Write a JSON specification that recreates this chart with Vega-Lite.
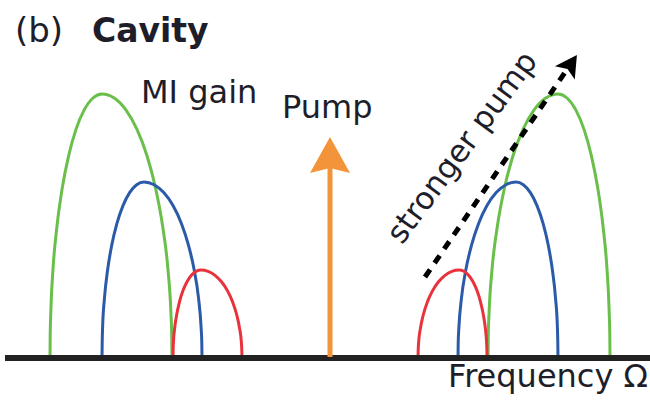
{
  "$schema": "https://vega.github.io/schema/vega-lite/v6.json",
  "width": 650,
  "height": 400,
  "autosize": {"type": "none"},
  "padding": 0,
  "background": "white",
  "config": {"view": {"stroke": null}},
  "datasets": {
    "curves": [
      {"c":"sL","p":"strong","x":-280,"g":0},{"c":"sL","p":"strong","x":-279.8,"g":23},{"c":"sL","p":"strong","x":-279.2,"g":45.8},{"c":"sL","p":"strong","x":-276.9,"g":90.3},{"c":"sL","p":"strong","x":-273,"g":132},{"c":"sL","p":"strong","x":-267.8,"g":169.7},{"c":"sL","p":"strong","x":-261.4,"g":202.2},{"c":"sL","p":"strong","x":-254,"g":228.6},{"c":"sL","p":"strong","x":-245.8,"g":248.1},{"c":"sL","p":"strong","x":-237,"g":260},{"c":"sL","p":"strong","x":-228,"g":264},{"c":"sL","p":"strong","x":-215.8,"g":260},{"c":"sL","p":"strong","x":-204.1,"g":248.1},{"c":"sL","p":"strong","x":-193,"g":228.6},{"c":"sL","p":"strong","x":-183,"g":202.2},{"c":"sL","p":"strong","x":-174.4,"g":169.7},{"c":"sL","p":"strong","x":-167.4,"g":132},{"c":"sL","p":"strong","x":-162.2,"g":90.3},{"c":"sL","p":"strong","x":-159.1,"g":45.8},{"c":"sL","p":"strong","x":-158.3,"g":23},{"c":"sL","p":"strong","x":-158,"g":0},
      {"c":"sR","p":"strong","x":158,"g":0},{"c":"sR","p":"strong","x":158.3,"g":23},{"c":"sR","p":"strong","x":159.1,"g":45.8},{"c":"sR","p":"strong","x":162.2,"g":90.3},{"c":"sR","p":"strong","x":167.4,"g":132},{"c":"sR","p":"strong","x":174.4,"g":169.7},{"c":"sR","p":"strong","x":183,"g":202.2},{"c":"sR","p":"strong","x":193,"g":228.6},{"c":"sR","p":"strong","x":204.1,"g":248.1},{"c":"sR","p":"strong","x":215.8,"g":260},{"c":"sR","p":"strong","x":228,"g":264},{"c":"sR","p":"strong","x":237,"g":260},{"c":"sR","p":"strong","x":245.8,"g":248.1},{"c":"sR","p":"strong","x":254,"g":228.6},{"c":"sR","p":"strong","x":261.4,"g":202.2},{"c":"sR","p":"strong","x":267.8,"g":169.7},{"c":"sR","p":"strong","x":273,"g":132},{"c":"sR","p":"strong","x":276.9,"g":90.3},{"c":"sR","p":"strong","x":279.2,"g":45.8},{"c":"sR","p":"strong","x":279.8,"g":23},{"c":"sR","p":"strong","x":280,"g":0},
      {"c":"mL","p":"medium","x":-228,"g":0},{"c":"mL","p":"medium","x":-227.8,"g":15.3},{"c":"mL","p":"medium","x":-227.4,"g":30.6},{"c":"mL","p":"medium","x":-225.5,"g":60.2},{"c":"mL","p":"medium","x":-222.4,"g":88},{"c":"mL","p":"medium","x":-218.2,"g":113.1},{"c":"mL","p":"medium","x":-213,"g":134.8},{"c":"mL","p":"medium","x":-207,"g":152.4},{"c":"mL","p":"medium","x":-200.4,"g":165.4},{"c":"mL","p":"medium","x":-193.3,"g":173.3},{"c":"mL","p":"medium","x":-186,"g":176},{"c":"mL","p":"medium","x":-175.9,"g":173.3},{"c":"mL","p":"medium","x":-166.2,"g":165.4},{"c":"mL","p":"medium","x":-157,"g":152.4},{"c":"mL","p":"medium","x":-148.7,"g":134.8},{"c":"mL","p":"medium","x":-141.6,"g":113.1},{"c":"mL","p":"medium","x":-135.8,"g":88},{"c":"mL","p":"medium","x":-131.5,"g":60.2},{"c":"mL","p":"medium","x":-128.9,"g":30.6},{"c":"mL","p":"medium","x":-128.2,"g":15.3},{"c":"mL","p":"medium","x":-128,"g":0},
      {"c":"mR","p":"medium","x":128,"g":0},{"c":"mR","p":"medium","x":128.2,"g":15.3},{"c":"mR","p":"medium","x":128.9,"g":30.6},{"c":"mR","p":"medium","x":131.5,"g":60.2},{"c":"mR","p":"medium","x":135.8,"g":88},{"c":"mR","p":"medium","x":141.6,"g":113.1},{"c":"mR","p":"medium","x":148.7,"g":134.8},{"c":"mR","p":"medium","x":157,"g":152.4},{"c":"mR","p":"medium","x":166.2,"g":165.4},{"c":"mR","p":"medium","x":175.9,"g":173.3},{"c":"mR","p":"medium","x":186,"g":176},{"c":"mR","p":"medium","x":193.3,"g":173.3},{"c":"mR","p":"medium","x":200.4,"g":165.4},{"c":"mR","p":"medium","x":207,"g":152.4},{"c":"mR","p":"medium","x":213,"g":134.8},{"c":"mR","p":"medium","x":218.2,"g":113.1},{"c":"mR","p":"medium","x":222.4,"g":88},{"c":"mR","p":"medium","x":225.5,"g":60.2},{"c":"mR","p":"medium","x":227.4,"g":30.6},{"c":"mR","p":"medium","x":227.8,"g":15.3},{"c":"mR","p":"medium","x":228,"g":0},
      {"c":"wL","p":"weak","x":-157,"g":0},{"c":"wL","p":"weak","x":-156.9,"g":7.7},{"c":"wL","p":"weak","x":-156.6,"g":15.3},{"c":"wL","p":"weak","x":-155.3,"g":30.1},{"c":"wL","p":"weak","x":-153.2,"g":44},{"c":"wL","p":"weak","x":-150.4,"g":56.6},{"c":"wL","p":"weak","x":-147,"g":67.4},{"c":"wL","p":"weak","x":-143,"g":76.2},{"c":"wL","p":"weak","x":-138.6,"g":82.7},{"c":"wL","p":"weak","x":-133.9,"g":86.7},{"c":"wL","p":"weak","x":-129,"g":88},{"c":"wL","p":"weak","x":-121.9,"g":86.7},{"c":"wL","p":"weak","x":-115,"g":82.7},{"c":"wL","p":"weak","x":-108.5,"g":76.2},{"c":"wL","p":"weak","x":-102.6,"g":67.4},{"c":"wL","p":"weak","x":-97.6,"g":56.6},{"c":"wL","p":"weak","x":-93.5,"g":44},{"c":"wL","p":"weak","x":-90.5,"g":30.1},{"c":"wL","p":"weak","x":-88.6,"g":15.3},{"c":"wL","p":"weak","x":-88.2,"g":7.7},{"c":"wL","p":"weak","x":-88,"g":0},
      {"c":"wR","p":"weak","x":88,"g":0},{"c":"wR","p":"weak","x":88.2,"g":7.7},{"c":"wR","p":"weak","x":88.6,"g":15.3},{"c":"wR","p":"weak","x":90.5,"g":30.1},{"c":"wR","p":"weak","x":93.5,"g":44},{"c":"wR","p":"weak","x":97.6,"g":56.6},{"c":"wR","p":"weak","x":102.6,"g":67.4},{"c":"wR","p":"weak","x":108.5,"g":76.2},{"c":"wR","p":"weak","x":115,"g":82.7},{"c":"wR","p":"weak","x":121.9,"g":86.7},{"c":"wR","p":"weak","x":129,"g":88},{"c":"wR","p":"weak","x":133.9,"g":86.7},{"c":"wR","p":"weak","x":138.6,"g":82.7},{"c":"wR","p":"weak","x":143,"g":76.2},{"c":"wR","p":"weak","x":147,"g":67.4},{"c":"wR","p":"weak","x":150.4,"g":56.6},{"c":"wR","p":"weak","x":153.2,"g":44},{"c":"wR","p":"weak","x":155.3,"g":30.1},{"c":"wR","p":"weak","x":156.6,"g":15.3},{"c":"wR","p":"weak","x":156.9,"g":7.7},{"c":"wR","p":"weak","x":157,"g":0}
    ]
  },
  "layer": [
    {
      "data": {"name": "curves"},
      "mark": {"type": "line", "strokeWidth": 3, "interpolate": "monotone"},
      "encoding": {
        "x": {"field": "x", "type": "quantitative", "scale": {"domain": [-330, 320], "nice": false, "zero": false}, "axis": null},
        "y": {"field": "g", "type": "quantitative", "scale": {"domain": [-42, 358], "nice": false, "zero": false}, "axis": null},
        "detail": {"field": "c"},
        "color": {"field": "p", "type": "nominal", "scale": {"domain": ["weak", "medium", "strong"], "range": ["#e8333c", "#2b5ba8", "#6abf4b"]}, "legend": null}
      }
    },
    {
      "data": {"values": [{"x": -325, "g": 0}, {"x": 322, "g": 0}]},
      "mark": {"type": "line", "strokeWidth": 6, "color": "#222222"},
      "encoding": {
        "x": {"field": "x", "type": "quantitative"},
        "y": {"field": "g", "type": "quantitative"}
      }
    },
    {
      "data": {"values": [{"x": 0, "g": 1, "g2": 191}]},
      "mark": {"type": "rule", "strokeWidth": 5, "color": "#f3943a"},
      "encoding": {
        "x": {"field": "x", "type": "quantitative"},
        "y": {"field": "g", "type": "quantitative"},
        "y2": {"field": "g2"}
      }
    },
    {
      "data": {"values": [{"x": 0, "g": 201}]},
      "mark": {"type": "point", "shape": "M0,-1L1,0.8L0,0.55L-1,0.8Z", "size": 1600, "filled": true, "opacity": 1, "color": "#f3943a", "strokeWidth": 0},
      "encoding": {
        "x": {"field": "x", "type": "quantitative"},
        "y": {"field": "g", "type": "quantitative"}
      }
    },
    {
      "data": {"values": [{"x": 95, "g": 81}, {"x": 238, "g": 290}]},
      "mark": {"type": "line", "strokeWidth": 5, "strokeDash": [9, 8], "color": "#000000"},
      "encoding": {
        "x": {"field": "x", "type": "quantitative"},
        "y": {"field": "g", "type": "quantitative"}
      }
    },
    {
      "data": {"values": [{"x": 240.2, "g": 293.1}]},
      "mark": {"type": "point", "shape": "M0,-1L1,0.8L0,0.4L-1,0.8Z", "size": 576, "angle": 34, "filled": true, "opacity": 1, "color": "#000000", "strokeWidth": 0},
      "encoding": {
        "x": {"field": "x", "type": "quantitative"},
        "y": {"field": "g", "type": "quantitative"}
      }
    },
    {
      "data": {"values": [{"x": -315, "g": 316, "t": "(b)"}]},
      "mark": {"type": "text", "font": "DejaVu Sans", "fontSize": 34, "align": "left", "baseline": "alphabetic", "color": "#1e1e2a"},
      "encoding": {
        "x": {"field": "x", "type": "quantitative"},
        "y": {"field": "g", "type": "quantitative"},
        "text": {"field": "t"}
      }
    },
    {
      "data": {"values": [{"x": -238, "g": 316, "t": "Cavity"}]},
      "mark": {"type": "text", "font": "DejaVu Sans", "fontSize": 33, "fontWeight": "bold", "align": "left", "baseline": "alphabetic", "color": "#1e1e2a"},
      "encoding": {
        "x": {"field": "x", "type": "quantitative"},
        "y": {"field": "g", "type": "quantitative"},
        "text": {"field": "t"}
      }
    },
    {
      "data": {"values": [{"x": -189, "g": 255, "t": "MI gain"}, {"x": -48, "g": 240, "t": "Pump"}]},
      "mark": {"type": "text", "font": "DejaVu Sans", "fontSize": 32, "align": "left", "baseline": "alphabetic", "color": "#1e1e2a"},
      "encoding": {
        "x": {"field": "x", "type": "quantitative"},
        "y": {"field": "g", "type": "quantitative"},
        "text": {"field": "t"}
      }
    },
    {
      "data": {"values": [{"x": 318, "g": -29, "t": "Frequency Ω"}]},
      "mark": {"type": "text", "font": "DejaVu Sans", "fontSize": 32, "align": "right", "baseline": "alphabetic", "color": "#1e1e2a"},
      "encoding": {
        "x": {"field": "x", "type": "quantitative"},
        "y": {"field": "g", "type": "quantitative"},
        "text": {"field": "t"}
      }
    },
    {
      "data": {"values": [{"x": 133, "g": 210, "t": "stronger pump"}]},
      "mark": {"type": "text", "font": "DejaVu Sans", "fontSize": 31, "angle": -53.5, "align": "center", "baseline": "middle", "color": "#1e1e2a"},
      "encoding": {
        "x": {"field": "x", "type": "quantitative"},
        "y": {"field": "g", "type": "quantitative"},
        "text": {"field": "t"}
      }
    }
  ]
}
